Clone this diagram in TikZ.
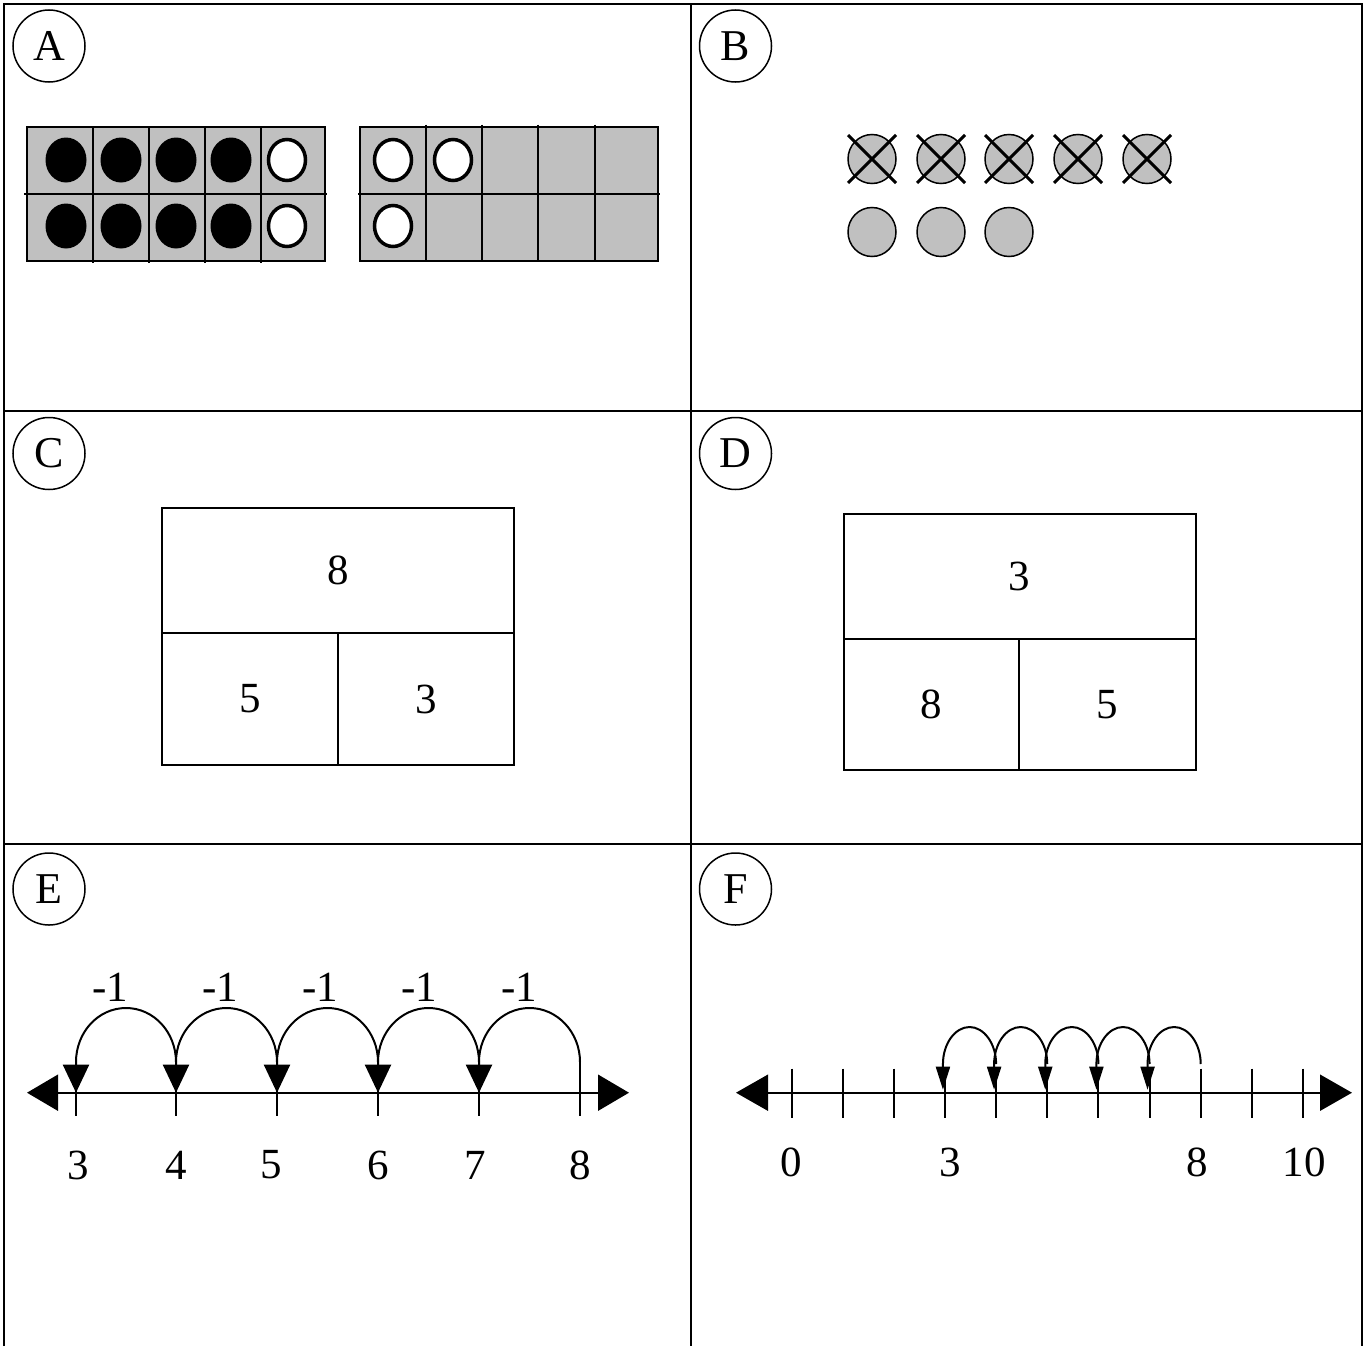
\documentclass[tikz,border=0pt]{standalone}
\usepackage{fontspec}
\setmainfont{Liberation Serif}
\usetikzlibrary{arrows.meta,calc}
\definecolor{silver}{RGB}{192,192,192}
\begin{document}
\begin{tikzpicture}[x=1pt,y=-1pt,
  frameline/.style={line width=2pt},
  badge/.style={circle,draw,line width=1.5pt,minimum size=72pt,inner sep=0pt,font=\fontsize{44}{44}\selectfont},
  numtxt/.style={inner sep=0pt,font=\fontsize{43}{43}\selectfont},
  cell/.style={draw,line width=2pt,inner sep=0pt,font=\fontsize{43}{43}\selectfont},
  tenframe/.style={fill=silver,draw,line width=2pt},
  gridline/.style={line width=2pt},
  blackdot/.style={fill=black},
  whitedot/.style={fill=white,draw,line width=3.5pt},
  counter/.style={fill=silver,draw,line width=1.5pt},
  cross/.style={line width=3pt},
  axis/.style={line width=2pt},
  tickline/.style={line width=2pt},
  ejump/.style={line width=2pt,-{Triangle[length=28pt,width=26pt]}},
  fjump/.style={line width=2pt,-{Triangle[length=23pt,width=14pt]}},
]
\useasboundingbox (0,0) rectangle (1364,1346);

% ---------- frame ----------
\draw[frameline] (3.5,1346) -- (3.5,4) -- (1362,4) -- (1362,1346);
\draw[frameline] (3.5,411) -- (1362,411);
\draw[frameline] (3.5,843.5) -- (1362,843.5);
\draw[frameline] (691,4) -- (691,1346);

% ---------- badges ----------
\node[badge] (bA) at (49,46) {A};
\node[badge] (bB) at (735.5,46) {B};
\node[badge] (bC) at (49,453.5) {C};
\node[badge] (bD) at (735.5,453.5) {D};
\node[badge] (bE) at (49,889) {E};
\node[badge] (bF) at (735.5,889) {F};

% ---------- A: ten frames ----------
\draw[tenframe] (27,127) rectangle (325,261);
\foreach \x in {93,149,205,261} \draw[gridline] (\x,127) -- (\x,262.5);
\draw[gridline] (24,194) -- (327,194);
\draw[tenframe] (360,127) rectangle (658,261);
\foreach \x in {426,482,538,595} \draw[gridline] (\x,124.5) -- (\x,261);
\draw[gridline] (358,194) -- (660,194);

\foreach \x in {66,121,176,231} \foreach \y in {160,226}
  \fill[blackdot] (\x,\y) ellipse [x radius=20.5, y radius=22.5];
\foreach \p in {(287,160),(287,226),(393,160),(453,160),(393,226)}
  \draw[whitedot] \p ellipse [x radius=18.5, y radius=20.5];

% ---------- B: counters ----------
\foreach \x in {872,941,1009,1078,1147} {
  \draw[counter] (\x,159) ellipse [x radius=24, y radius=24.5];
  \draw[cross] (\x-24,135) -- (\x+24,183);
  \draw[cross] (\x+24,135) -- (\x-24,183);
}
\foreach \x in {872,941,1009}
  \draw[counter] (\x,232) ellipse [x radius=24, y radius=24.5];

% ---------- C: part-whole ----------
\node[cell,minimum width=352pt,minimum height=125pt] (c8) at (338,570.5) {8};
\node[cell,minimum width=176.4pt,minimum height=132pt] (c5) at (249.8,699) {5};
\node[cell,minimum width=176pt,minimum height=132pt] (c3) at (426,699) {3};

% ---------- D: part-whole ----------
\node[cell,minimum width=352pt,minimum height=124.7pt] (d3) at (1019.5,576.3) {3};
\node[cell,minimum width=175.8pt,minimum height=131.3pt] (d8) at (931.4,704.3) {8};
\node[cell,minimum width=176.3pt,minimum height=131.3pt] (d5) at (1107.5,704.3) {5};

% ---------- E: number line ----------
\foreach \n/\x in {3/76,4/176,5/277,6/378,7/479,8/580} {
  \coordinate (e\n) at (\x,1092.7);
  \coordinate (e\n t) at (\x,1062);
}
\foreach \n [evaluate=\n as \m using int(\n+1)] in {3,...,7}
  \coordinate (ep\n) at ($(e\n t)!0.5!(e\m t)+(0,-54)$);
\coordinate (eL) at (27,1092.7);
\coordinate (eR) at (629,1092.7);
\draw[axis,{Triangle[length=31pt,width=36pt]}-{Triangle[length=31pt,width=36pt]}] (eL) -- (eR);
\foreach \n in {3,...,7} \draw[tickline] ($(e\n)+(0,-22)$) -- ($(e\n)+(0,23)$);
\draw[tickline] (e8t) -- ($(e8)+(0,23)$);
\foreach \n/\x in {3/78,4/176.5,5/271.5,6/378.6,7/475.7,8/580}
  \node[numtxt] (el\n) at (\x,1165) {\n};
\foreach \i/\x in {1/110,2/220,3/320,4/419,5/519}
  \node[numtxt] (em\i) at (\x,987) {-1};
\foreach \n [evaluate=\n as \m using int(\n+1)] in {3,...,7}
  \draw[ejump] (e\m t) .. controls +(0,-29.8) and +(27.8,0) .. (ep\n)
    .. controls +(-27.8,0) and +(0,-29.8) .. (e\n t) -- (e\n);

% ---------- F: number line ----------
\foreach \i in {0,...,10} {
  \coordinate (f\i) at ({791.5+51.15*\i},1092.7);
  \coordinate (f\i t) at ({791.5+51.15*\i},1064);
  \coordinate (f\i a) at ({789.5+51.15*\i},1064);
  \coordinate (f\i e) at ({789.5+51.15*\i},1089.7);
}
\foreach \n [evaluate=\n as \m using int(\n+1)] in {3,...,7}
  \coordinate (fp\n) at ($(f\n a)!0.5!(f\m t)+(0,-37)$);
\coordinate (fL) at (736,1092.7);
\coordinate (fR) at (1352,1092.7);
\draw[axis,{Triangle[length=32pt,width=36pt]}-{Triangle[length=32pt,width=36pt]}] (fL) -- (fR);
\foreach \i in {0,...,10} \draw[tickline] ($(f\i)+(0,-24)$) -- ($(f\i)+(0,25)$);
\node[numtxt] (fl0) at (791.5,1162) {0};
\node[numtxt] (fl3) at (950,1162) {3};
\node[numtxt] (fl8) at (1197,1162) {8};
\node[numtxt] (fl10) at (1304,1162) {10};
\foreach \n [evaluate=\n as \m using int(\n+1)] in {3,...,7}
  \draw[fjump] (f\m t) .. controls +(0,-20.4) and +(14.4,0) .. (fp\n)
    .. controls +(-14.4,0) and +(0,-20.4) .. (f\n a) -- (f\n e);

\end{tikzpicture}
\end{document}
